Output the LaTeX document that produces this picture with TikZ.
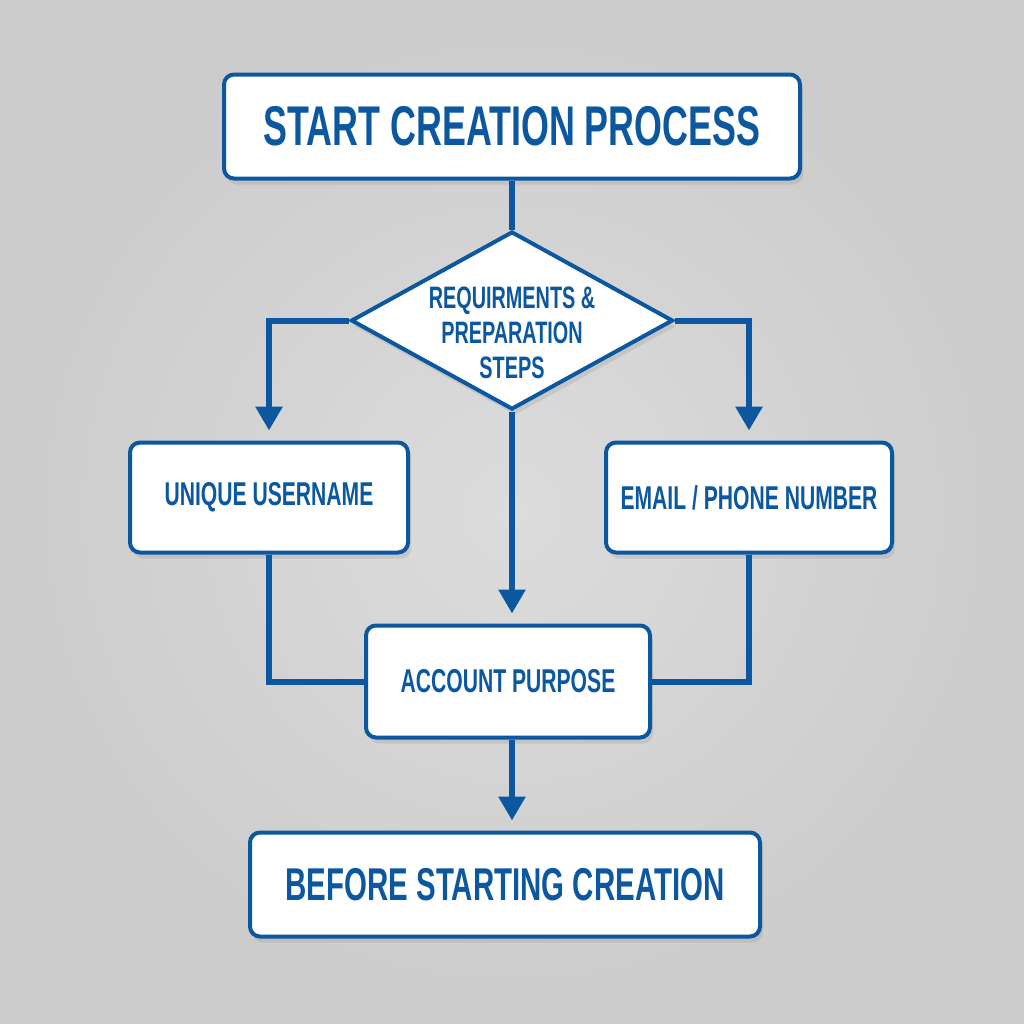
\documentclass[tikz,border=0pt]{standalone}
\usepackage{fontspec}
\newfontfamily\boxfont[FakeStretch=0.64]{Liberation Sans}
\usetikzlibrary{shapes.geometric}
\usetikzlibrary{arrows.meta}
\usetikzlibrary{positioning,shadows}

\definecolor{flowblue}{RGB}{12,88,160}
\definecolor{bgin}{RGB}{220,220,220}
\definecolor{bgout}{RGB}{204,204,204}

\tikzset{
    box/.style={draw=flowblue, line width=2pt, fill=white, rounded corners=5pt,
        text=flowblue, align=center,
        drop shadow={opacity=0.2, shadow xshift=1.5pt, shadow yshift=-3pt}},
    decision/.style={diamond, draw=flowblue, line width=2pt, fill=white,
        inner sep=0pt, aspect=1.8, minimum width=161pt, minimum height=89pt,
        drop shadow={opacity=0.2, shadow xshift=1.5pt, shadow yshift=-3pt}},
    bigtext/.style={font=\boxfont\bfseries\fontsize{28}{32}\selectfont},
    lowtext/.style={font=\boxfont\bfseries\fontsize{23}{27}\selectfont},
    midtext/.style={font=\boxfont\bfseries\fontsize{16.5}{19}\selectfont},
    smalltext/.style={text=flowblue, align=center, font=\boxfont\bfseries\fontsize{15.5}{17.5}\selectfont},
    link/.style={draw=flowblue, line width=3pt},
}

\begin{document}
\begin{tikzpicture}[x=0.5pt, y=-0.5pt, >={Triangle[width=13pt,length=12pt]}]
    \shade[inner color=bgin, outer color=bgout] (0,0) rectangle (1024,1024);
    \useasboundingbox (0,0) rectangle (1024,1024);

    \node[box, bigtext, minimum width=288pt, minimum height=52pt] (Start) at (512,126.5) {START CREATION PROCESS};
    \node[decision] (Req) at (512,320.5) {};
    \node[smalltext, yshift=-6pt] (ReqText) at (Req.center) {REQUIRMENTS \&\\PREPARATION\\STEPS};
    \node[box, midtext, minimum width=139pt, minimum height=55pt] (User) at (269,497.5) {UNIQUE USERNAME};
    \node[box, midtext, minimum width=143pt, minimum height=55pt] (Mail) at (749,497.5) {EMAIL / PHONE NUMBER};
    \node[box, midtext, minimum width=142pt, minimum height=56pt] (Purp) at (508,681.5) {ACCOUNT PURPOSE};
    \node[box, lowtext, minimum width=255pt, minimum height=52pt] (Before) at (505,884.5) {BEFORE STARTING CREATION};

    \draw[link] (Start) -- (Req);
    \draw[link, ->, shorten >=5pt] (Req.west) -| (User.north);
    \draw[link, ->, shorten >=5pt] (Req.east) -| (Mail.north);
    \draw[link, ->, shorten >=5pt] (Req.south) -- (Req.south |- Purp.north);
    \draw[link] (User.south) |- (Purp.west);
    \draw[link] (Mail.south) |- (Purp.east);
    \draw[link, ->, shorten >=5pt] (Req.south |- Purp.south) -- (Req.south |- Before.north);
\end{tikzpicture}
\end{document}
